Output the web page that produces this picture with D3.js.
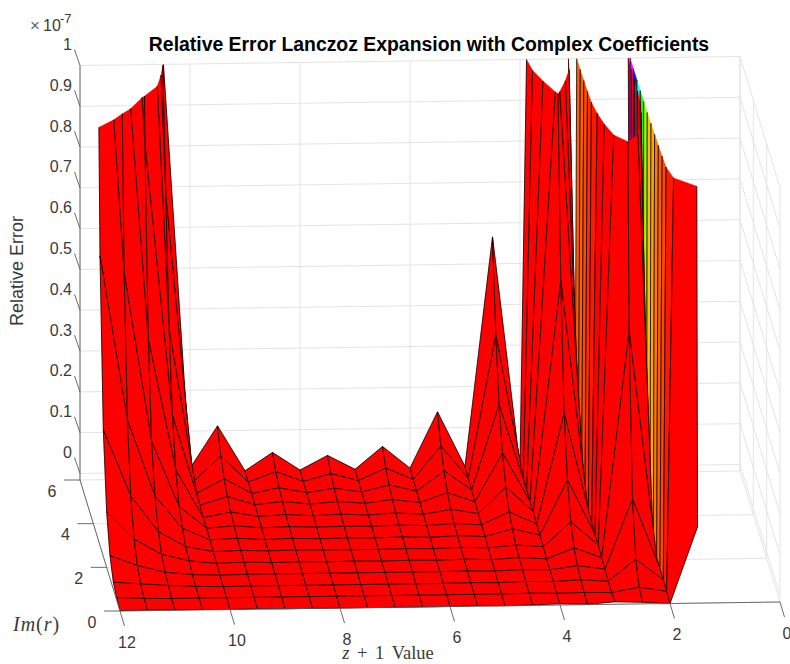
<!DOCTYPE html>
<html>
<head>
<meta charset="utf-8">
<script src="https://cdn.jsdelivr.net/npm/d3@7/dist/d3.min.js"></script>
<style>
html,body{margin:0;padding:0;background:#fff;}
svg{display:block;}
text{font-family:"Liberation Sans",Arial,sans-serif;fill:#3a3a3a;}
</style>
</head>
<body>
<svg id="chart" width="790" height="664"></svg>
<script>
// ---- Chart values (error in units of 1e-7, measured above the axis floor) ----
const xTicks = [0, 2, 4, 6, 8, 10, 12];
const yTicks = [0, 2, 4, 6];
const zTicks = [0, 0.1, 0.2, 0.3, 0.4, 0.5, 0.6, 0.7, 0.8, 0.9, 1];
const zTickLabels = ["0", "0.1", "0.2", "0.3", "0.4", "0.5", "0.6", "0.7", "0.8", "0.9", "1"];
const zFloor = -0.016;
const zTop = 1;
const colorMax = 200;
const colorLevels = 64;

const imValues = [0, 0.5, 1, 1.5, 2, 2.5, 3, 3.5, 4, 4.5, 5, 5.5, 6];
const zPlus1Values = [1.5, 2, 2.5, 3, 3.5, 4, 4.5, 5, 5.5, 6, 6.5, 7, 7.5, 8, 8.5, 9, 9.5, 10, 10.5, 11, 11.5, 12];

// one list per z+1 column, from Im(r)=0 to Im(r)=6
const errAt1_5  = [0.187, 4, 10, 13, 16.5, 22, 28, 47, 69, 103, 133, 168, 200];
const errAt2    = [0.000, 0.003, 0.004, 0.006, 0.007, 0.008, 0.009, 0.011, 0.012, 0.014, 0.015, 0.017, 0.018];
const errAt2_5  = [0.004, 0.014, 0.056, 0.177, 0.56, 1.8, 3, 5, 9, 11, 13, 14, 16];
const errAt3    = [0.006, 0.002, 0.003, 0.006, 0.007, 0.011, 0.011, 0.012, 0.013, 0.014, 0.015, 0.017, 0.018];
const errAt3_5  = [0.001, 0.003, 0.007, 0.015, 0.032, 0.069, 0.145, 0.282, 0.58, 1.1, 1.7, 3, 4.2];
const errAt4    = [0.003, 0.002, 0.004, 0.006, 0.006, 0.009, 0.011, 0.011, 0.015, 0.013, 0.015, 0.017, 0.018];
const errAt4_5  = [0.001, 0.003, 0.005, 0.007, 0.010, 0.014, 0.027, 0.042, 0.076, 0.133, 0.224, 0.368, 0.582];
const errAt5    = [0.000, 0.002, 0.003, 0.005, 0.006, 0.008, 0.009, 0.011, 0.012, 0.014, 0.016, 0.018, 0.020];
const errAt5_5  = [0.001, 0.002, 0.004, 0.006, 0.008, 0.010, 0.012, 0.015, 0.023, 0.037, 0.064, 0.098, 0.155];
const errAt6    = [0.000, 0.002, 0.003, 0.005, 0.006, 0.008, 0.009, 0.011, 0.012, 0.014, 0.015, 0.017, 0.018];
const errAt6_5  = [0.000, 0.002, 0.003, 0.005, 0.007, 0.009, 0.011, 0.013, 0.016, 0.022, 0.031, 0.046, 0.072];
const errAt7    = [0.000, 0.002, 0.003, 0.005, 0.006, 0.008, 0.009, 0.011, 0.012, 0.014, 0.015, 0.016, 0.017];
const errAt7_5  = [0.000, 0.002, 0.003, 0.005, 0.007, 0.008, 0.010, 0.012, 0.015, 0.019, 0.025, 0.034, 0.052];
const errAt8    = [0.000, 0.002, 0.003, 0.005, 0.006, 0.008, 0.009, 0.011, 0.012, 0.014, 0.015, 0.016, 0.017];
const errAt8_5  = [0.000, 0.002, 0.003, 0.005, 0.007, 0.009, 0.011, 0.013, 0.016, 0.021, 0.028, 0.041, 0.061];
const errAt9    = [0.000, 0.002, 0.003, 0.005, 0.006, 0.008, 0.009, 0.011, 0.012, 0.014, 0.015, 0.016, 0.017];
const errAt9_5  = [0.001, 0.002, 0.003, 0.005, 0.008, 0.010, 0.013, 0.017, 0.024, 0.035, 0.052, 0.081, 0.128];
const errAt10   = [0.000, 0.002, 0.0025, 0.004, 0.006, 0.008, 0.010, 0.012, 0.011, 0.015, 0.017, 0.019, 0.025];
const errAt10_5 = [0.001, 0.002, 0.004, 0.006, 0.013, 0.021, 0.039, 0.066, 0.129, 0.235, 0.42, 0.72, 1.05];
const errAt11   = [0.001, 0.002, 0.007, 0.013, 0.030, 0.059, 0.119, 0.226, 0.45, 0.9, 1.8, 2.4, 3];
const errAt11_5 = [0.001, 0.003, 0.012, 0.030, 0.068, 0.147, 0.306, 0.64, 1.33, 2, 2.5, 3, 3];
const errAt12   = [0.001, 0.006, 0.017, 0.055, 0.136, 0.31, 0.71, 1.63, 3.7, 5, 7, 9, 12];

const errColumns = [errAt1_5, errAt2, errAt2_5, errAt3, errAt3_5, errAt4, errAt4_5, errAt5, errAt5_5,
  errAt6, errAt6_5, errAt7, errAt7_5, errAt8, errAt8_5, errAt9, errAt9_5, errAt10, errAt10_5,
  errAt11, errAt11_5, errAt12];

// ---- Projection, built from d3 linear scales ----
const xToPx = d3.scaleLinear().domain([0, 12]).range([780, 120]);
const yToPx = d3.scaleLinear().domain([0, 6]).range([0, -40]);
const xToPy = d3.scaleLinear().domain([0, 12]).range([602, 611]);
const yToPy = d3.scaleLinear().domain([0, 6]).range([0, -131]);
const zToPy = d3.scaleLinear().domain([zFloor, zTop]).range([0, -414.5]);
const project = (x, y, z) => [xToPx(x) + yToPx(y), xToPy(x) + yToPy(y) + zToPy(z)];
const line = d3.line();

const colorOf = v => {
  const level = Math.min(colorLevels - 1, Math.floor(v / colorMax * colorLevels));
  return d3.hsl(level / colorLevels * 360, 1, 0.5).formatHex();
};

const svg = d3.select("#chart");

// ---- Walls and floor ----
const gridG = svg.append("g").attr("fill", "none").attr("stroke", "#e4e4e4").attr("stroke-width", 1);
const seg = (g, a, b) => g.append("path").attr("d", line([a, b]));
zTicks.forEach(t => {
  seg(gridG, project(12, 6, t), project(0, 6, t));
  seg(gridG, project(0, 6, t), project(0, 0, t));
});
xTicks.forEach(t => {
  seg(gridG, project(t, 6, zFloor), project(t, 6, zTop));
  seg(gridG, project(t, 0, zFloor), project(t, 6, zFloor));
});
yTicks.forEach(t => {
  seg(gridG, project(12, t, zFloor), project(0, t, zFloor));
  seg(gridG, project(0, t, zFloor), project(0, t, zTop));
});

// ---- Surface: far rows first, each face clipped to the top of the z axis ----
const clipFace = pts => {
  const out = [];
  pts.forEach((a, i) => {
    const b = pts[(i + 1) % pts.length];
    const aIn = a[2] <= zTop, bIn = b[2] <= zTop;
    if (aIn) out.push(a);
    if (aIn !== bIn) {
      const t = (zTop - a[2]) / (b[2] - a[2]);
      out.push([a[0] + t * (b[0] - a[0]), a[1] + t * (b[1] - a[1]), zTop]);
    }
  });
  return out;
};
const clipEdge = (a, b) => {
  if (a[2] > zTop && b[2] > zTop) return null;
  const cut = (p, q) => {
    const t = (zTop - p[2]) / (q[2] - p[2]);
    return [p[0] + t * (q[0] - p[0]), p[1] + t * (q[1] - p[1]), zTop];
  };
  if (a[2] > zTop) return [cut(a, b), b];
  if (b[2] > zTop) return [a, cut(b, a)];
  return [a, b];
};

const surfaceG = svg.append("g");
const vertex = (i, j) => [zPlus1Values[i], imValues[j], errColumns[i][j] + zFloor];
for (let j = imValues.length - 2; j >= 0; j--) {
  for (let i = zPlus1Values.length - 2; i >= 0; i--) {
    const corners = [vertex(i, j), vertex(i + 1, j), vertex(i + 1, j + 1), vertex(i, j + 1)];
    const face = clipFace(corners);
    if (face.length < 3) continue;
    surfaceG.append("path")
      .attr("d", line(face.map(p => project(p[0], p[1], p[2]))) + "Z")
      .attr("fill", colorOf(errColumns[i][j]))
      .attr("stroke", colorOf(errColumns[i][j]))
      .attr("stroke-width", 0.4);
    corners.forEach((a, k) => {
      const e = clipEdge(a, corners[(k + 1) % 4]);
      if (e) surfaceG.append("path")
        .attr("d", line(e.map(p => project(p[0], p[1], p[2]))))
        .attr("fill", "none").attr("stroke", "#000").attr("stroke-width", 0.75);
    });
  }
}

// ---- Axes ----
const axisG = svg.append("g").attr("fill", "none").attr("stroke", "#5a5a5a").attr("stroke-width", 0.9);
seg(axisG, project(12, 0, zFloor), project(0, 0, zFloor));
seg(axisG, project(12, 0, zFloor), project(12, 6, zFloor));
seg(axisG, project(12, 6, zFloor), project(12, 6, zTop));

const label = (x, y, s, anchor, size) => svg.append("text")
  .attr("x", x).attr("y", y).attr("text-anchor", anchor || "middle")
  .attr("dominant-baseline", "central").attr("font-size", size || 16).text(s);

xTicks.forEach(t => {
  const p = project(t, 0, zFloor);
  seg(axisG, p, [p[0] + 4.5, p[1] + 15]);
  label(p[0] + 7, p[1] + 31, String(t));
});
yTicks.forEach(t => {
  const p = project(12, t, zFloor);
  seg(axisG, p, [p[0] - 16, p[1]]);
  label(p[0] - 28, p[1] + 11, String(t));
});
zTicks.forEach((t, i) => {
  const p = project(12, 6, t);
  seg(axisG, p, [p[0] - 5.5, p[1] - 16]);
  label(72, p[1] - 21, zTickLabels[i], "end");
});

// ---- Texts ----
svg.append("text").attr("x", 429).attr("y", 44).attr("text-anchor", "middle")
  .attr("dominant-baseline", "central").attr("font-size", 19.4).attr("font-weight", "bold")
  .style("fill", "#000").text("Relative Error Lanczoz Expansion with Complex Coefficients");

svg.append("text").attr("transform", "translate(17,271) rotate(-90)").attr("text-anchor", "middle")
  .attr("dominant-baseline", "central").attr("font-size", 18).text("Relative Error");

svg.append("text").attr("x", 30).attr("y", 25).attr("dominant-baseline", "central")
  .attr("font-size", 17).style("fill", "#666").text("\u00d7");
svg.append("text").attr("x", 43).attr("y", 25).attr("dominant-baseline", "central")
  .attr("font-size", 16).text("10");
svg.append("text").attr("x", 60).attr("y", 18).attr("dominant-baseline", "central")
  .attr("font-size", 13).text("-7");

const serif = '"Liberation Serif","DejaVu Serif",serif';
const im = svg.append("text").attr("x", 13).attr("y", 624).attr("dominant-baseline", "central")
  .attr("font-size", 20).attr("letter-spacing", 1).style("font-family", serif);
im.append("tspan").text("Im").attr("font-style", "italic");
im.append("tspan").text("(");
im.append("tspan").text("r").attr("font-style", "italic");
im.append("tspan").text(")");

const zl = svg.append("text").attr("x", 388).attr("y", 653).attr("text-anchor", "middle")
  .attr("dominant-baseline", "central").attr("font-size", 18.5).attr("word-spacing", 3).style("font-family", serif);
zl.append("tspan").text("z").attr("font-style", "italic");
zl.append("tspan").text(" + 1 Value");
</script>
</body>
</html>
